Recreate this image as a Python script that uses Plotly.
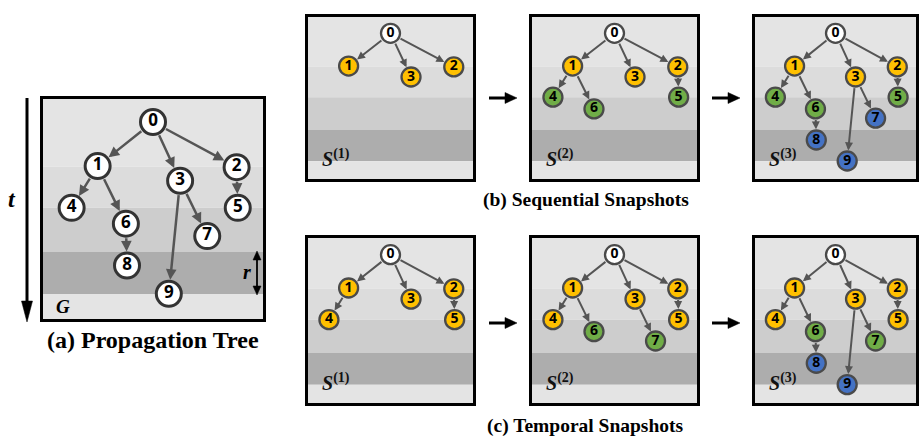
import plotly.graph_objects as go

W, H = 920, 439

# ---- propagation tree data ----
node_ids = [0, 1, 2, 3, 4, 5, 6, 7, 8, 9]
# positions inside a panel, as fractions (x from left, y from top)
node_x = [0.500, 0.255, 0.870, 0.620, 0.140, 0.875, 0.380, 0.740, 0.385, 0.570]
node_y = [0.115, 0.310, 0.315, 0.375, 0.495, 0.495, 0.565, 0.620, 0.750, 0.875]
parents = [None, 0, 0, 0, 1, 2, 1, 3, 6, 3]

# snapshot index at which each node first appears (0 = source post)
seq_stage = [0, 1, 1, 1, 2, 2, 2, 3, 3, 3]
temp_stage = [0, 1, 1, 1, 1, 1, 2, 2, 3, 3]

# horizontal time bands (fractions of panel height) and their shades
band_edges = [0.0, 0.313, 0.495, 0.690, 0.876, 1.0]
band_colors = ["#e4e4e4", "#dcdcdc", "#cdcdcd", "#adadad", "#e4e4e4"]
stage_colors = ["#ffffff", "#ffc000", "#70ad47", "#4472c4"]

captions = ["(a) Propagation Tree", "(b) Sequential Snapshots", "(c) Temporal Snapshots"]

# panel boxes in pixels: (left, top, right, bottom)
panels = [
    dict(box=(40, 96, 266, 322), stages=None, k=None),
    dict(box=(305, 14, 476, 182), stages=seq_stage, k=1),
    dict(box=(529, 14, 700, 182), stages=seq_stage, k=2),
    dict(box=(752, 14, 919, 182), stages=seq_stage, k=3),
    dict(box=(305, 235, 476, 406), stages=temp_stage, k=1),
    dict(box=(529, 235, 700, 406), stages=temp_stage, k=2),
    dict(box=(752, 235, 919, 406), stages=temp_stage, k=3),
]


def px(x):
    return x / W


def py(y):
    return 1 - y / H


def pt(x, y):
    return f"{px(x):.5f},{py(y):.5f}"


def label(x, y, text, size, family, color="black", xanchor="center"):
    return dict(x=px(x), y=py(y), xref="paper", yref="paper", text=text,
                showarrow=False, xanchor=xanchor, yanchor="middle",
                font=dict(family=family, size=size, color=color))


fig = go.Figure()
layout = dict(
    width=W, height=H, margin=dict(l=0, r=0, t=0, b=0),
    paper_bgcolor="white", plot_bgcolor="white", showlegend=False,
)
shapes = []
annotations = []

SERIF = "Liberation Serif, Times New Roman, serif"
EDGE = "#555555"

for i, p in enumerate(panels, start=1):
    sfx = "" if i == 1 else str(i)
    xa, ya = "x" + sfx, "y" + sfx
    l, t, r, b = p["box"]
    big = p["stages"] is None
    layout["xaxis" + sfx] = dict(domain=[px(l), px(r)], range=[0, 1], visible=False,
                                 fixedrange=True, anchor=ya)
    layout["yaxis" + sfx] = dict(domain=[py(b), py(t)], range=[1, 0], visible=False,
                                 fixedrange=True, anchor=xa)

    # time bands
    for j, col in enumerate(band_colors):
        shapes.append(dict(type="rect", xref=xa, yref=ya, x0=0, x1=1,
                           y0=band_edges[j], y1=band_edges[j + 1],
                           fillcolor=col, line=dict(width=0), layer="below"))
    # frame
    shapes.append(dict(type="rect", xref="paper", yref="paper",
                       x0=px(l + 1.5), x1=px(r - 1.5), y0=py(b - 1.5), y1=py(t + 1.5),
                       line=dict(color="black", width=3), layer="above"))

    if big:
        shown = list(node_ids)
        colors = ["#ffffff"] * len(shown)
    else:
        shown = [n for n in node_ids if p["stages"][n] <= p["k"]]
        colors = [stage_colors[p["stages"][n]] for n in shown]

    msize = 25 if big else 19
    mline = 3 if big else 2.3
    rad = (msize + mline) / 2

    # edges parent -> child
    for n in shown:
        par = parents[n]
        if par is None:
            continue
        annotations.append(dict(
            x=node_x[n], y=node_y[n], ax=node_x[par], ay=node_y[par],
            xref=xa, yref=ya, axref=xa, ayref=ya, text="", showarrow=True,
            arrowhead=2, arrowsize=0.85 if big else 0.8,
            arrowwidth=2.5 if big else 2.0, arrowcolor=EDGE,
            standoff=rad, startstandoff=rad - 1))

    fig.add_trace(go.Scatter(
        x=[node_x[n] for n in shown], y=[node_y[n] for n in shown],
        xaxis=xa, yaxis=ya, mode="markers+text",
        text=[str(n) for n in shown], texttemplate="<b>%{text}</b>",
        textposition="middle center",
        textfont=dict(family="Open Sans", size=17 if big else 14, color="black"),
        marker=dict(size=msize, color=colors,
                    line=dict(color="#333333" if big else "#4a4a4a", width=mline)),
        hoverinfo="skip", cliponaxis=False,
    ))

    # panel letter / snapshot label
    if big:
        annotations.append(label(63, 306, "<b><i>G</i></b>", 19, SERIF))
    else:
        ly = t + 0.86 * (b - t)
        annotations.append(label(l + 15, ly,
                                 f"<b><i>S</i></b><sup><b>({p['k']})</b></sup>",
                                 20, SERIF, color="#111111", xanchor="left"))

# axis labels of panel (a)
annotations.append(label(12, 199, "<b><i>t</i></b>", 24, SERIF))
annotations.append(label(247, 272, "<b><i>r</i></b>", 20, SERIF))

# time arrow
shapes.append(dict(type="line", xref="paper", yref="paper", x0=px(27), x1=px(27),
                   y0=py(98), y1=py(304), line=dict(color="black", width=3)))
shapes.append(dict(type="path", xref="paper", yref="paper",
                   path=f"M{pt(21.5, 301)} L{pt(32.5, 301)} L{pt(27, 322)} Z",
                   fillcolor="black", line=dict(color="black", width=0.5)))
# r double arrow
shapes.append(dict(type="line", xref="paper", yref="paper", x0=px(257), x1=px(257),
                   y0=py(257), y1=py(289), line=dict(color="black", width=1.8)))
shapes.append(dict(type="path", xref="paper", yref="paper",
                   path=f"M{pt(253, 260)} L{pt(257, 251)} L{pt(261, 260)} Z",
                   fillcolor="black", line=dict(color="black", width=0.5)))
shapes.append(dict(type="path", xref="paper", yref="paper",
                   path=f"M{pt(253, 286)} L{pt(257, 295)} L{pt(261, 286)} Z",
                   fillcolor="black", line=dict(color="black", width=0.5)))

# arrows between snapshots
for yy in (98, 323):
    for x0 in (489, 712):
        shapes.append(dict(type="line", xref="paper", yref="paper", x0=px(x0),
                           x1=px(x0 + 18), y0=py(yy), y1=py(yy),
                           line=dict(color="black", width=3)))
        shapes.append(dict(type="path", xref="paper", yref="paper",
                           path=f"M{pt(x0 + 16, yy - 5.5)} L{pt(x0 + 28, yy)} L{pt(x0 + 16, yy + 5.5)} Z",
                           fillcolor="black", line=dict(color="black", width=0.5)))

# captions
for text, (cx, cy, fs) in zip(captions, [(153, 340, 24), (586, 200, 19.5), (585, 426, 19.5)]):
    annotations.append(label(cx, cy, f"<b>{text}</b>", fs, SERIF))

layout["shapes"] = shapes
layout["annotations"] = annotations
fig.update_layout(**layout)
fig.write_html("out.html")
